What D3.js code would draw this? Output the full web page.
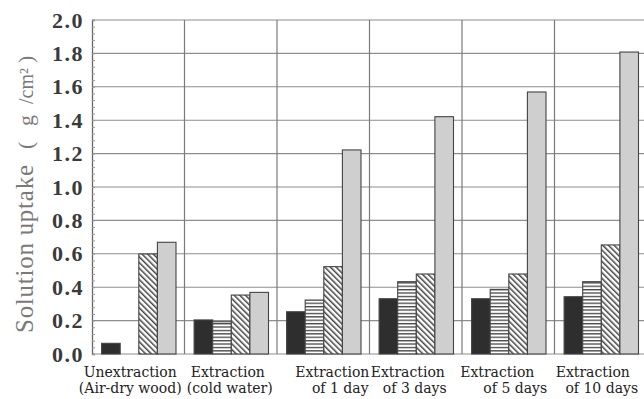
<html>
<head>
<meta charset="utf-8">
<script src="https://cdnjs.cloudflare.com/ajax/libs/d3/7.8.5/d3.min.js"></script>
<style>
	body { margin: 0; background: #fff; }
	svg { display: block; }
</style>
</head>
<body>
<div id="chart"></div>
<script>

// data
var groups = ["unext", "cold", "d1", "d3", "d5", "d10"];
var labelLine1 = ["Unextraction", "Extraction", "Extraction", "Extraction", "Extraction", "Extraction"];
var labelLine2 = ["(Air-dry wood)", "(cold water)", "of 1 day", "of 3 days", "of 5 days", "of 10 days"];
var series = ["black", "hstripe", "dstripe", "gray"];
var blackVals   = [0.064, 0.204, 0.253, 0.331, 0.331, 0.343];
var hstripeVals = [null,  0.193, 0.323, 0.433, 0.387, 0.433];
var dstripeVals = [0.599, 0.353, 0.523, 0.479, 0.479, 0.653];
var grayVals    = [0.669, 0.369, 1.222, 1.421, 1.569, 1.808];
var yTicks = [0, 0.2, 0.4, 0.6, 0.8, 1.0, 1.2, 1.4, 1.6, 1.8, 2.0];
var yTitleParts = ["Solution uptake", "(", "g", "/cm²", ")"];

(function(){

var W = 644, H = 399;
var mLeft = 92, mTop = 20, mBottom = 354, mRight = 647;

var svg = d3.select("#chart").append("svg")
	.attr("width", W)
	.attr("height", H);

// patterns
var defs = svg.append("defs");
var ph = defs.append("pattern")
	.attr("id", "hstripe")
	.attr("patternUnits", "userSpaceOnUse")
	.attr("width", 6).attr("height", 3.4);
ph.append("rect").attr("width", 6).attr("height", 3.4).attr("fill", "#fff");
ph.append("rect").attr("y", 0).attr("width", 6).attr("height", 1.3).attr("fill", "#444");

var pd = defs.append("pattern")
	.attr("id", "dstripe")
	.attr("patternUnits", "userSpaceOnUse")
	.attr("width", 4).attr("height", 4)
	.attr("patternTransform", "rotate(-45)");
pd.append("rect").attr("width", 4).attr("height", 4).attr("fill", "#fff");
pd.append("rect").attr("x", 0).attr("width", 1.5).attr("height", 4).attr("fill", "#444");

var fills = {
	black: "#2e2e2e",
	hstripe: "url(#hstripe)",
	dstripe: "url(#dstripe)",
	gray: "#cfcfcf"
};
var valsBySeries = {
	black: blackVals,
	hstripe: hstripeVals,
	dstripe: dstripeVals,
	gray: grayVals
};

var x0 = d3.scaleBand().domain(groups).range([mLeft, mRight]).padding(0);
var x1 = d3.scaleBand().domain(series).range([9.6, 84]).padding(0);
var y = d3.scaleLinear().domain([0, 2]).range([mBottom, mTop]);

// grid
var grid = svg.append("g");
grid.selectAll(".hg")
	.data(yTicks)
	.enter()
	.append("line")
	.attr("x1", mLeft).attr("x2", W)
	.attr("y1", function(d){ return y(d); })
	.attr("y2", function(d){ return y(d); })
	.style("stroke", "#8e8e8e")
	.style("stroke-width", 1.1);

grid.selectAll(".vg")
	.data(groups.slice(1))
	.enter()
	.append("line")
	.attr("x1", function(d){ return x0(d); })
	.attr("x2", function(d){ return x0(d); })
	.attr("y1", mTop).attr("y2", mBottom)
	.style("stroke", "#7a7a7a")
	.style("stroke-width", 1.2);

// left axis with minor ticks inside
var yAxis = d3.axisLeft(y).tickValues(d3.range(0, 2.001, 0.04)).tickSize(-3).tickFormat("");
var ax = svg.append("g").attr("transform", "translate(" + mLeft + ",0)").call(yAxis);
ax.select(".domain").style("stroke", "#666").style("stroke-width", 1.3);
ax.selectAll(".tick line").style("stroke", "#999").style("stroke-width", 1);

// bars
var rows = [];
groups.forEach(function(g, i){
	series.forEach(function(s){
		var v = valsBySeries[s][i];
		if (v !== null) rows.push({g: g, s: s, v: v});
	});
});

svg.append("g").selectAll("rect")
	.data(rows)
	.enter()
	.append("rect")
	.attr("x", function(d){ return x0(d.g) + x1(d.s); })
	.attr("y", function(d){ return y(d.v); })
	.attr("width", x1.bandwidth())
	.attr("height", function(d){ return y(0) - y(d.v); })
	.attr("fill", function(d){ return fills[d.s]; })
	.style("stroke", "#444")
	.style("stroke-width", 1.1);

// y tick labels
svg.append("g").selectAll("text")
	.data(yTicks)
	.enter()
	.append("text")
	.attr("x", 84)
	.attr("y", function(d){ return y(d) + 7.5; })
	.attr("text-anchor", "end")
	.style("font-family", "'Liberation Serif', 'Times New Roman', serif")
	.style("font-weight", "bold")
	.style("font-size", "22px")
	.style("letter-spacing", "1.5px")
	.attr("fill", "#3a3a3a")
	.text(function(d){ return d.toFixed(1); });

// y axis title, pieces spaced like the original
var partPos = [0, 184, 207, 229, 270];
var partSize = [25, 22, 22, 20, 22];
var yt = svg.append("text")
	.attr("transform", "translate(33,333) rotate(-90)")
	.style("font-family", "'Liberation Serif', 'Times New Roman', serif")
	.attr("fill", "#7a7a7a");
yt.selectAll("tspan")
	.data(yTitleParts)
	.enter()
	.append("tspan")
	.attr("x", function(d, i){ return partPos[i]; })
	.attr("y", 0)
	.style("font-size", function(d, i){ return partSize[i] + "px"; })
	.text(function(d){ return d; });
yt.select("tspan").attr("textLength", 168).attr("lengthAdjust", "spacing");

// x labels
var lineShift1 = [-8, -3, 9, -8, -11, -8];
var lineShift2 = [-8, -1, 17, -1, 7, 1];
var xl = svg.append("g")
	.style("font-family", "'DejaVu Serif', serif")
	.style("font-size", "14px")
	.attr("fill", "#222")
	.attr("text-anchor", "middle");
xl.selectAll(".l1")
	.data(groups)
	.enter()
	.append("text")
	.attr("x", function(d, i){ return x0(d) + x0.bandwidth() / 2 + lineShift1[i]; })
	.attr("y", 377)
	.text(function(d, i){ return labelLine1[i]; });
xl.selectAll(".l2")
	.data(groups)
	.enter()
	.append("text")
	.attr("x", function(d, i){ return x0(d) + x0.bandwidth() / 2 + lineShift2[i]; })
	.attr("y", 393)
	.text(function(d, i){ return labelLine2[i]; });

})();

</script>
</body>
</html>
